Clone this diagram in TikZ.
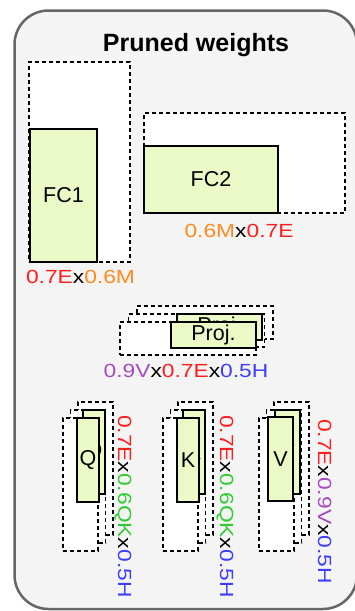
\documentclass[tikz,border=0pt]{standalone}
\usepackage{fontspec}
\setmainfont{Liberation Sans}
\newfontfamily\lblfont[FakeStretch=1.2]{Liberation Sans}
\definecolor{cred}{HTML}{FF1F1F}
\definecolor{corange}{HTML}{FF8A1F}
\definecolor{cgreen}{HTML}{2ECC2E}
\definecolor{cpurple}{HTML}{A84BC0}
\definecolor{cblue}{HTML}{3D3DFF}
\definecolor{boxgreen}{HTML}{EBF9C6}
\definecolor{panelbg}{HTML}{F4F4F4}
\definecolor{panelline}{HTML}{666666}
\tikzset{
  dbox/.style={draw=black, dash pattern=on 4pt off 3pt, line width=1.3pt, fill=white, inner sep=0pt, outer sep=0pt, anchor=north west},
  gbox/.style={draw=black, line width=1.3pt, fill=boxgreen, inner sep=0pt, outer sep=0pt, anchor=north west, font=\fontsize{21.5}{21.5}\selectfont},
  lbl/.style={inner sep=0pt, outer sep=0pt, font=\lblfont\fontsize{19}{19}\selectfont}
}
\begin{document}
\begin{tikzpicture}[x=1pt,y=-1pt]
\useasboundingbox (0,0) rectangle (355,611);
% panel
\draw[panelline, fill=panelbg, line width=2.5pt, rounded corners=34pt] (14.5,10.5) rectangle (357,609);
\node[inner sep=0pt, anchor=base, font=\bfseries\fontsize{25}{25}\selectfont] (title) at (196,51) {Pruned weights};
% FC1
\node[dbox, minimum width=101, minimum height=200] (fc1d) at (29,62) {};
\node[gbox, minimum width=67, minimum height=133] (fc1) at (30,129) {FC1};
\node[lbl, anchor=base] (fc1l) at (80.5,283) {\textcolor{cred}{0.7E}x\textcolor{corange}{0.6M}};
% FC2
\node[dbox, minimum width=201, minimum height=100] (fc2d) at (144,113) {};
\node[gbox, minimum width=134, minimum height=67] (fc2) at (144,146) {FC2};
\node[lbl, anchor=base] (fc2l) at (239,237) {\textcolor{corange}{0.6M}x\textcolor{cred}{0.7E}};
% Proj
\node[dbox, minimum width=136, minimum height=33] (pd3) at (137,306) {};
\node[dbox, minimum width=136, minimum height=33] (pd2) at (128.5,314) {};
\node[dbox, minimum width=136, minimum height=33] (pd1) at (120,322) {};
\node[gbox, minimum width=85, minimum height=26] (ps2) at (177,314) {Proj.};
\node[gbox, minimum width=85, minimum height=26] (ps1) at (171,322) {Proj.};
\node[lbl, anchor=base] (pl) at (186,377) {\textcolor{cpurple}{0.9V}x\textcolor{cred}{0.7E}x\textcolor{cblue}{0.5H}};
% Q
\node[dbox, minimum width=35, minimum height=133] (qd3) at (78,402) {};
\node[dbox, minimum width=35, minimum height=133] (qd2) at (70.5,410) {};
\node[dbox, minimum width=35, minimum height=133] (qd1) at (63,418) {};
\node[gbox, minimum width=22, minimum height=84] (qs2) at (83,410) {Q};
\node[gbox, minimum width=22, minimum height=84] (qs1) at (77,418) {Q};
\node[lbl, rotate=-90, anchor=base west] (ql) at (118,415) {\textcolor{cred}{0.7E}x\textcolor{cgreen}{0.6QK}x\textcolor{cblue}{0.5H}};
% K
\node[dbox, minimum width=35, minimum height=133] (kd3) at (178,402) {};
\node[dbox, minimum width=35, minimum height=133] (kd2) at (170.5,410) {};
\node[dbox, minimum width=35, minimum height=133] (kd1) at (163,418) {};
\node[gbox, minimum width=22, minimum height=84] (ks2) at (183,410) {K};
\node[gbox, minimum width=22, minimum height=84] (ks1) at (177,418) {K};
\node[lbl, rotate=-90, anchor=base west] (kl) at (220,415) {\textcolor{cred}{0.7E}x\textcolor{cgreen}{0.6QK}x\textcolor{cblue}{0.5H}};
% V
\node[dbox, minimum width=35, minimum height=133] (vd3) at (274,402) {};
\node[dbox, minimum width=35, minimum height=133] (vd2) at (266.5,410) {};
\node[dbox, minimum width=35, minimum height=133] (vd1) at (259,418) {};
\node[gbox, minimum width=25, minimum height=84] (vs2) at (275,410) {V};
\node[gbox, minimum width=25, minimum height=84] (vs1) at (268,417) {V};
\node[lbl, rotate=-90, anchor=base west] (vl) at (318,419) {\textcolor{cred}{0.7E}x\textcolor{cpurple}{0.9V}x\textcolor{cblue}{0.5H}};
\end{tikzpicture}
\end{document}
